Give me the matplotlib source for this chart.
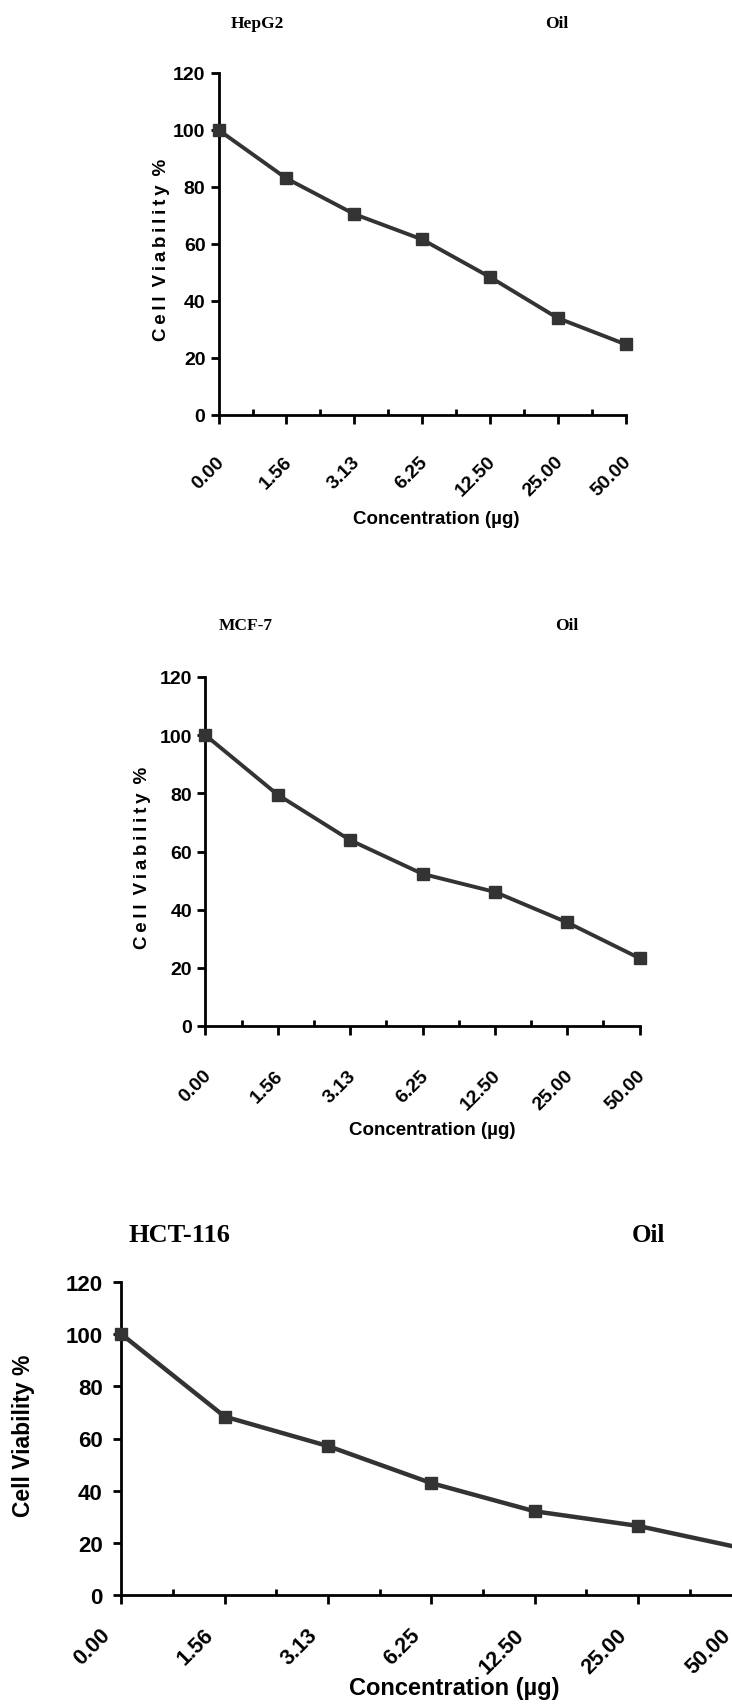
import numpy as np
import matplotlib
matplotlib.use('Agg')
import matplotlib.pyplot as plt
from matplotlib import font_manager, transforms
from matplotlib.ticker import FixedLocator, MultipleLocator

W, H = 732, 1706

concentrations = ['0.00', '1.56', '3.13', '6.25', '12.50', '25.00', '50.00']
hepg2 = [100, 83, 70.5, 61.6, 48.4, 34, 24.8]
mcf7 = [100, 79.5, 63.9, 52.3, 46.1, 35.6, 23.3]
hct116 = [100, 68.4, 57.1, 42.9, 32.1, 26.5, 18.0]

installed = {f.name for f in font_manager.fontManager.ttflist}
narrow = 'Liberation Sans Narrow' if 'Liberation Sans Narrow' in installed else 'Liberation Sans'
sans = 'Liberation Sans'
serif = 'Liberation Serif'

line_color = '#333333'
# letter-spaced axis title of the two upper panels
gap = '\u2009'
spaced_label = gap.join('Cell') + ' ' + gap + gap.join('Viability') + ' ' + gap + '%'


def px(x, y):
    return x / W, 1 - y / H


def box(left, top, right, bottom):
    return [left / W, 1 - bottom / H, (right - left) / W, (bottom - top) / H]


def plot_panel(fig, rect, values, font, tick_size, xpad, ypad, dx=0,
               xtick_size=None, lw=2.8, ms=8):
    ax = fig.add_axes(rect)
    x = np.arange(len(values))
    ax.plot(x, values, color=line_color, lw=lw, marker='s', ms=ms,
            clip_on=False, zorder=5)
    ax.set_xlim(0, 6)
    ax.set_ylim(0, 120)
    for side in ['top', 'right']:
        ax.spines[side].set_visible(False)
    for side in ['left', 'bottom']:
        ax.spines[side].set_linewidth(2.0)
    ax.yaxis.set_major_locator(MultipleLocator(20))
    ax.set_xticks(x)
    ax.set_xticklabels(concentrations, rotation=45, ha='right', va='center',
                       rotation_mode='anchor')
    ax.xaxis.set_minor_locator(FixedLocator(np.arange(0.5, 6, 1)))
    ax.tick_params(axis='x', which='major', direction='out', length=6.5,
                   width=2, pad=xpad)
    ax.tick_params(axis='x', which='minor', direction='in', length=4.5, width=2)
    ax.tick_params(axis='y', which='major', direction='out', length=5.5,
                   width=2, pad=ypad)
    for lab in ax.get_yticklabels():
        lab.set_fontfamily(font)
        lab.set_fontweight('bold')
        lab.set_fontsize(tick_size)
    for lab in ax.get_xticklabels():
        lab.set_fontfamily(font)
        lab.set_fontweight('bold')
        lab.set_fontsize(xtick_size or tick_size)
    if dx:
        shift = transforms.ScaledTranslation(dx / 100, 0, fig.dpi_scale_trans)
        for lab in ax.get_xticklabels():
            lab.set_transform(lab.get_transform() + shift)
    return ax


fig = plt.figure(figsize=(W / 100, H / 100), dpi=100)

# HepG2
plot_panel(fig, box(218.6, 74, 625.6, 416), hepg2, narrow, 14, 25, 4, dx=3)
fig.text(*px(257, 24), 'HepG2', family=serif, weight='bold', size=12.5,
         ha='center', va='center')
fig.text(*px(557, 24), 'Oil', family=serif, weight='bold', size=12.5,
         ha='center', va='center')
fig.text(*px(436, 520), 'Concentration (µg)', family=narrow, weight='bold',
         size=13.5, ha='center', va='center')
fig.text(*px(161, 250), spaced_label, family=[sans, 'DejaVu Sans'],
         weight='bold', size=13.5, rotation=90, ha='center', va='center')

# MCF-7
plot_panel(fig, box(205.4, 678, 639.6, 1027), mcf7, narrow, 14, 27, 4, dx=3)
fig.text(*px(246, 626), 'MCF-7', family=serif, weight='bold', size=12.5,
         ha='center', va='center')
fig.text(*px(567, 626), 'Oil', family=serif, weight='bold', size=12.5,
         ha='center', va='center')
fig.text(*px(432, 1131), 'Concentration (µg)', family=narrow, weight='bold',
         size=13.5, ha='center', va='center')
fig.text(*px(142.4, 858), spaced_label, family=[sans, 'DejaVu Sans'],
         weight='bold', size=13.5, rotation=90, ha='center', va='center')

# HCT-116
plot_panel(fig, box(121.4, 1283, 741.2, 1596), hct116, sans, 16, 20, 8,
           dx=-14, xtick_size=15.5, lw=3.2, ms=9)
fig.text(*px(179.5, 1235), 'HCT-116', family=serif, weight='bold', size=19,
         ha='center', va='center')
fig.text(*px(648, 1235), 'Oil', family=serif, weight='bold', size=18,
         ha='center', va='center')
fig.text(*px(454, 1689), 'Concentration (µg)', family=sans, weight='bold',
         size=17, ha='center', va='center')
fig.text(*px(24, 1436), 'Cell Viability %', family=sans, weight='bold',
         size=16.5, rotation=90, ha='center', va='center')

fig.savefig('out.png', dpi=100)
